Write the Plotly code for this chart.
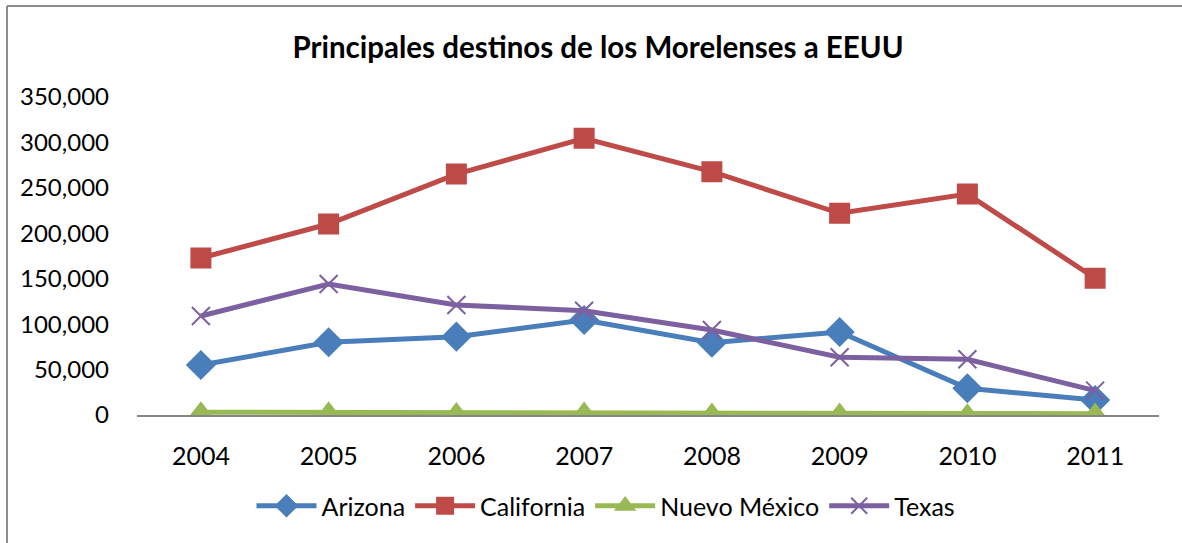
"""
destinos de los morelenses a EEUU, grafica de lineas
"""

import plotly.graph_objects as go

years = ["2004", "2005", "2006", "2007", "2008", "2009", "2010", "2011"]
arizona = [55000, 80000, 86200, 104600, 79600, 91400, 29400, 16500]
california = [172800, 210200, 265200, 304500, 267800, 222000, 243200, 150500]
nuevo_mexico = [3000, 2800, 2000, 2500, 1500, 1500, 800, 1500]
texas = [109000, 144200, 121100, 114800, 93600, 63500, 61300, 26800]
y_ticks = [0, 50000, 100000, 150000, 200000, 250000, 300000, 350000]

FONT = "Lato"

series = [
    ("Arizona", arizona, "#4A7EBB", "diamond", 21),
    ("California", california, "#BE4B48", "square", 19),
    ("Nuevo México", nuevo_mexico, "#98B954", "triangle-up", 19),
    ("Texas", texas, "#7D60A0", "x-thin-open", 18),
]

fig = go.Figure()
for name, vals, color, symbol, size in series:
    fig.add_trace(go.Scatter(
        x=years,
        y=vals,
        name=name,
        mode="lines+markers",
        line=dict(color=color, width=5),
        marker=dict(symbol=symbol, size=size, color=color,
                    line=dict(color=color, width=2)),
    ))

fig.update_layout(
    width=1182,
    height=543,
    paper_bgcolor="white",
    plot_bgcolor="white",
    margin=dict(l=137, r=23, t=97, b=128),
    font=dict(family=FONT, size=25, color="black"),
    title=dict(
        text="<b>Principales destinos de los Morelenses a EEUU</b>",
        x=598 / 1182, xanchor="center",
        y=1 - 48 / 543, yanchor="middle",
        font=dict(family=FONT, size=29.5, color="black"),
    ),
    showlegend=True,
    legend=dict(
        orientation="h",
        x=(606 - 137) / 1022, xanchor="center",
        y=-(506 - 415) / 318, yanchor="middle",
        font=dict(family=FONT, size=25),
        itemwidth=60,
    ),
    xaxis=dict(
        type="category",
        range=[-0.5, 7.5],
        showgrid=False,
        showline=True,
        linecolor="#868686",
        linewidth=1.5,
        ticks="",
        ticklabelstandoff=18,
        tickfont=dict(family=FONT, size=25),
    ),
    yaxis=dict(
        range=[0, 350000],
        tickvals=y_ticks,
        tickformat=",d",
        showgrid=False,
        zeroline=False,
        showline=False,
        ticks="",
        ticklabelstandoff=27,
        tickfont=dict(family=FONT, size=24),
    ),
)

# borde del area del grafico (solo arriba e izquierda quedan dentro de la imagen)
fig.add_shape(type="line", xref="paper", yref="paper",
              x0=(7 - 137) / 1022, x1=(1190 - 137) / 1022,
              y0=(415 - 6) / 318, y1=(415 - 6) / 318,
              line=dict(color="#8C8C8C", width=2))
fig.add_shape(type="line", xref="paper", yref="paper",
              x0=(7 - 137) / 1022, x1=(7 - 137) / 1022,
              y0=(415 - 6) / 318, y1=-(550 - 415) / 318,
              line=dict(color="#8C8C8C", width=2))

fig.write_html("out.html", config={"displayModeBar": False},
               post_script="document.body.style.margin='0';"
                           "document.body.style.overflow='hidden';")
